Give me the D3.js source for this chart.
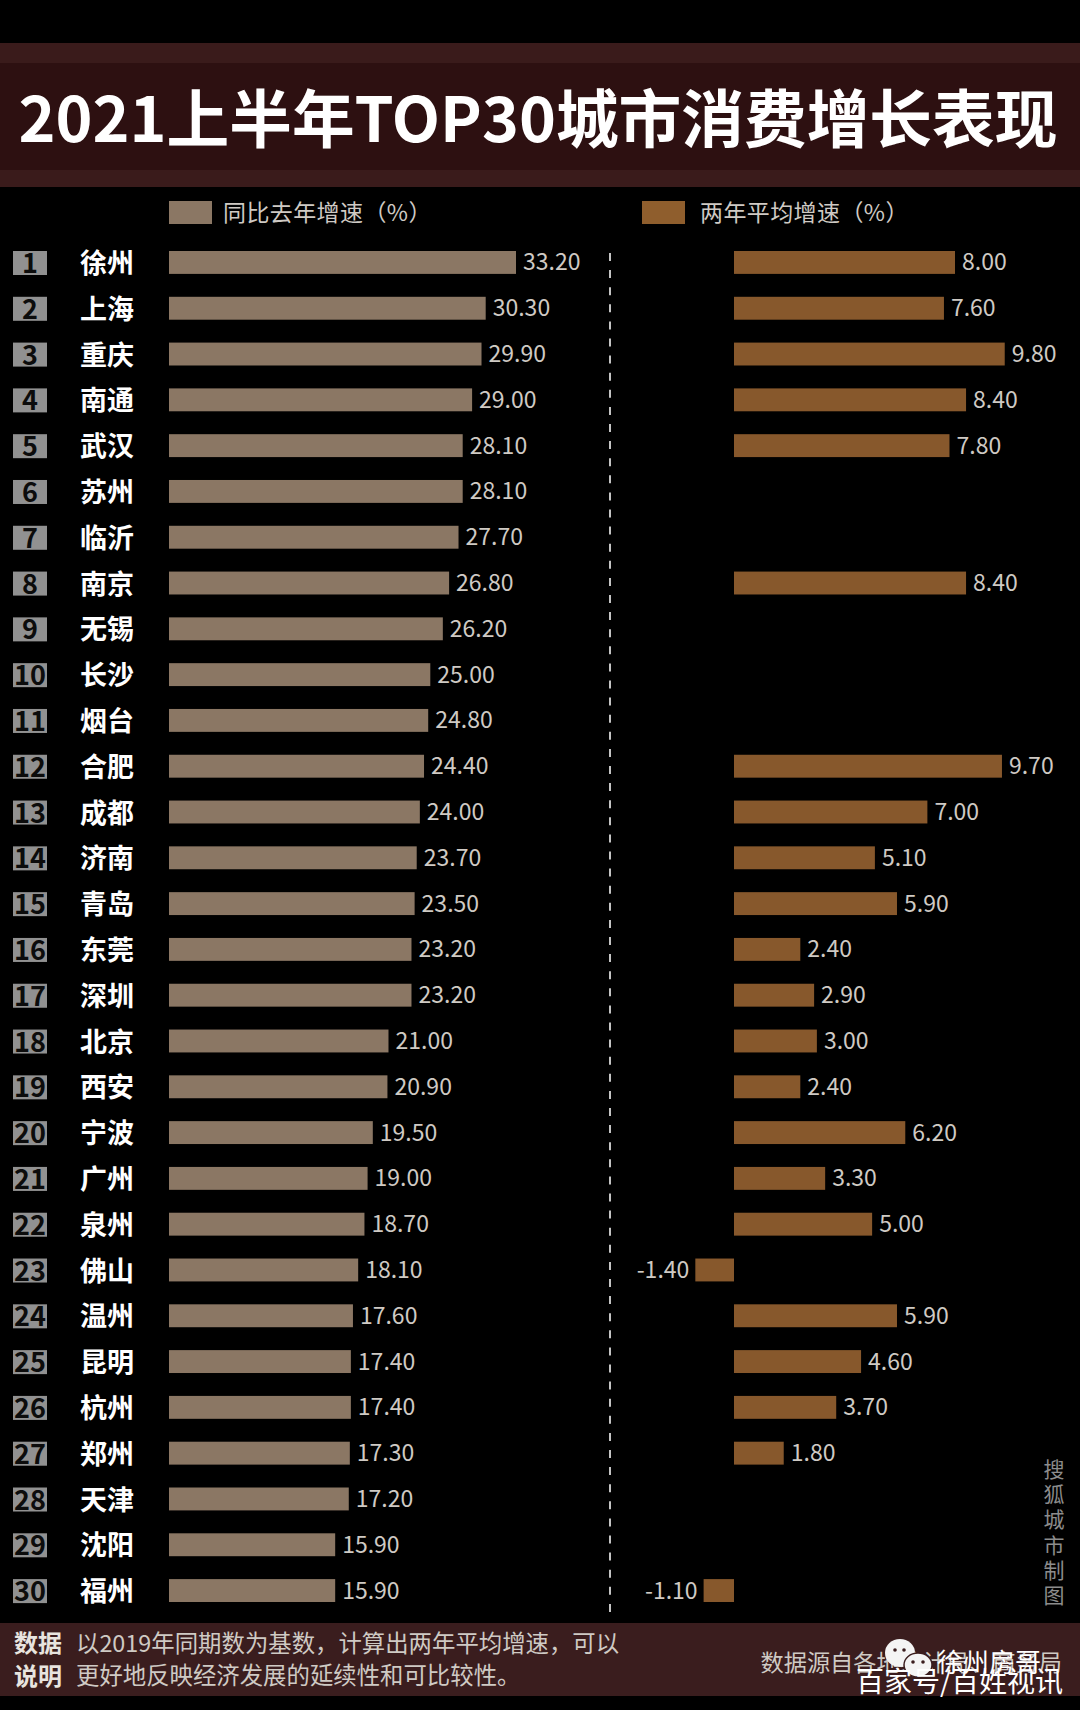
<!DOCTYPE html>
<html>
<head>
<meta charset="utf-8">
<script src="https://cdnjs.cloudflare.com/ajax/libs/d3/7.8.5/d3.min.js"></script>
<style>
  html, body { margin: 0; padding: 0; background: #000; }
  svg { display: block; }
  text { font-family: "Noto Sans CJK SC", "Noto Sans", sans-serif; }
</style>
</head>
<body>
<div id="chart"></div>
<script>
var cities = ['徐州','上海','重庆','南通','武汉','苏州','临沂','南京','无锡','长沙',
  '烟台','合肥','成都','济南','青岛','东莞','深圳','北京','西安','宁波',
  '广州','泉州','佛山','温州','昆明','杭州','郑州','天津','沈阳','福州'];
var yoyGrowth = [33.2,30.3,29.9,29.0,28.1,28.1,27.7,26.8,26.2,25.0,
  24.8,24.4,24.0,23.7,23.5,23.2,23.2,21.0,20.9,19.5,
  19.0,18.7,18.1,17.6,17.4,17.4,17.3,17.2,15.9,15.9];
var twoYearGrowth = [8.0,7.6,9.8,8.4,7.8,null,null,8.4,null,null,
  null,9.7,7.0,5.1,5.9,2.4,2.9,3.0,2.4,6.2,
  3.3,5.0,-1.4,5.9,4.6,3.7,1.8,null,null,-1.1];
var legendLabels = ['同比去年增速（%）','两年平均增速（%）'];
var noteLabels = ['数据','说明'];
var noteLines = ['以2019年同期数为基数，计算出两年平均增速，可以','更好地反映经济发展的延续性和可比较性。'];
var creditChars = ['搜','狐','城','市','制','图'];

var width = 1080, height = 1710;
var textColor = '#cfcac4', yoyColor = '#8b7764', twoYearColor = '#87582c';

var svg = d3.select('#chart').append('svg')
  .attr('width', width)
  .attr('height', height);

svg.append('rect')
  .attr('width', width).attr('height', height)
  .attr('fill', '#000');

// Title band
svg.append('rect')
  .attr('x', 0).attr('y', 43).attr('width', width).attr('height', 144)
  .attr('fill', '#3a1b1b');
svg.append('rect')
  .attr('x', 0).attr('y', 63).attr('width', width).attr('height', 107)
  .attr('fill', '#2d1011');
svg.append('text')
  .attr('x', 538).attr('y', 142)
  .attr('text-anchor', 'middle')
  .attr('font-size', 62.7)
  .attr('font-weight', 700)
  .attr('fill', '#fff')
  .text('2021上半年TOP30城市消费增长表现');

// Scales
var y = d3.scaleBand()
  .domain(cities)
  .range([251, 1602])
  .paddingInner(0.5);
var xYoy = d3.scaleLinear().domain([0, 33.2]).range([169, 516]);
var xTwoYear = d3.scaleLinear().domain([0, 8]).range([734, 955]);

// Legend
var legend = svg.append('g').attr('id', 'legend');
legend.selectAll('rect')
  .data(legendLabels)
  .enter().append('rect')
    .attr('x', function(d, i){ return i ? 642 : 169; })
    .attr('y', 201)
    .attr('width', 43)
    .attr('height', 23)
    .attr('fill', function(d, i){ return i ? '#8f5e2d' : yoyColor; });
legend.selectAll('text')
  .data(legendLabels)
  .enter().append('text')
    .attr('x', function(d, i){ return i ? 700 : 223; })
    .attr('y', 221)
    .attr('font-size', 23)
    .attr('letter-spacing', 0.4)
    .attr('fill', textColor)
    .text(function(d){ return d; });

// Divider
svg.append('line')
  .attr('x1', 610).attr('x2', 610)
  .attr('y1', 253).attr('y2', 1612)
  .attr('stroke', '#c4c4c4')
  .attr('stroke-width', 2)
  .attr('stroke-dasharray', '8 9.1');

// Rank badges and city names
var rows = svg.append('g').attr('id', 'rows')
  .selectAll('g')
  .data(cities)
  .enter().append('g')
    .attr('transform', function(d){ return 'translate(0,' + y(d) + ')'; });
rows.append('rect')
  .attr('x', 13).attr('y', 0)
  .attr('width', 34).attr('height', 24)
  .attr('fill', '#919191');
rows.append('text')
  .attr('x', 30).attr('y', 22)
  .attr('text-anchor', 'middle')
  .attr('font-size', 27)
  .attr('font-weight', 700)
  .attr('fill', '#0c0c0c')
  .text(function(d, i){ return i + 1; });
rows.append('text')
  .attr('x', 107).attr('y', 22)
  .attr('text-anchor', 'middle')
  .attr('font-size', 27)
  .attr('font-weight', 700)
  .attr('fill', '#fff')
  .text(function(d){ return d; });

// Year on year bars
var yoyData = cities.map(function(c, i){ return {city: c, value: yoyGrowth[i]}; });
var yoy = svg.append('g').attr('id', 'yoy');
yoy.selectAll('rect')
  .data(yoyData)
  .enter().append('rect')
    .attr('x', xYoy(0))
    .attr('y', function(d){ return y(d.city); })
    .attr('width', function(d){ return xYoy(d.value) - xYoy(0); })
    .attr('height', y.bandwidth())
    .attr('fill', yoyColor);
yoy.selectAll('text')
  .data(yoyData)
  .enter().append('text')
    .attr('x', function(d){ return xYoy(d.value) + 7; })
    .attr('y', function(d){ return y(d.city) + y.bandwidth()/2 + 8; })
    .attr('font-size', 23)
    .attr('fill', textColor)
    .text(function(d){ return d.value.toFixed(2); });

// Two year average bars, some cities have no figure
var twoYearData = cities
  .map(function(c, i){ return {city: c, value: twoYearGrowth[i]}; })
  .filter(function(d){ return d.value !== null; });
var twoYear = svg.append('g').attr('id', 'twoYear');
twoYear.selectAll('rect')
  .data(twoYearData)
  .enter().append('rect')
    .attr('x', function(d){ return Math.min(xTwoYear(0), xTwoYear(d.value)); })
    .attr('y', function(d){ return y(d.city); })
    .attr('width', function(d){ return Math.abs(xTwoYear(d.value) - xTwoYear(0)); })
    .attr('height', y.bandwidth())
    .attr('fill', twoYearColor);
twoYear.selectAll('text')
  .data(twoYearData)
  .enter().append('text')
    .attr('x', function(d){ return d.value < 0 ? xTwoYear(d.value) - 6 : xTwoYear(d.value) + 7; })
    .attr('y', function(d){ return y(d.city) + y.bandwidth()/2 + 8; })
    .attr('text-anchor', function(d){ return d.value < 0 ? 'end' : 'start'; })
    .attr('font-size', 23)
    .attr('fill', textColor)
    .text(function(d){ return d.value.toFixed(2); });

// Vertical credit
svg.append('g').attr('id', 'credit')
  .selectAll('text')
  .data(creditChars)
  .enter().append('text')
    .attr('x', 1054)
    .attr('y', function(d, i){ return 1477 + i*25.2; })
    .attr('text-anchor', 'middle')
    .attr('font-size', 21)
    .attr('fill', '#8c8c8c')
    .text(function(d){ return d; });

// Footer band
svg.append('rect')
  .attr('x', 0).attr('y', 1623).attr('width', width).attr('height', 73)
  .attr('fill', '#3a1d1e');
var note = svg.append('g').attr('id', 'note');
note.selectAll('text.label')
  .data(noteLabels)
  .enter().append('text')
    .attr('class', 'label')
    .attr('x', 14)
    .attr('y', function(d, i){ return 1652 + i*33; })
    .attr('font-size', 24)
    .attr('font-weight', 700)
    .attr('fill', '#e8e4df')
    .text(function(d){ return d; });
note.selectAll('text.line')
  .data(noteLines)
  .enter().append('text')
    .attr('class', 'line')
    .attr('x', 76)
    .attr('y', function(d, i){ return 1652 + i*32; })
    .attr('font-size', 23.4)
    .attr('fill', textColor)
    .text(function(d){ return d; });
note.append('text')
  .attr('x', 1062).attr('y', 1671)
  .attr('text-anchor', 'end')
  .attr('font-size', 23.2)
  .attr('fill', textColor)
  .text('数据源自各地统计局、商务局');

// Watermark on top of the footer
var mark = svg.append('g').attr('id', 'watermark');
mark.append('ellipse')
  .attr('cx', 900).attr('cy', 1653).attr('rx', 15).attr('ry', 14)
  .attr('fill', '#f4f4f4');
mark.append('ellipse')
  .attr('cx', 918).attr('cy', 1665).attr('rx', 14).attr('ry', 12)
  .attr('fill', '#f4f4f4')
  .attr('stroke', '#3a1d1e')
  .attr('stroke-width', 1.5);
[[895, 1650], [904, 1650], [913, 1662], [923, 1662]].forEach(function(p){
  mark.append('circle')
    .attr('cx', p[0]).attr('cy', p[1]).attr('r', 1.8)
    .attr('fill', '#3a1d1e');
});
mark.append('text')
  .attr('x', 937).attr('y', 1672)
  .attr('font-size', 26)
  .attr('fill', '#fff')
  .text('徐州房哥');
mark.append('text')
  .attr('x', 1063).attr('y', 1692)
  .attr('text-anchor', 'end')
  .attr('font-size', 28)
  .attr('fill', '#fff')
  .text('百家号/百姓视讯');
</script>
</body>
</html>
